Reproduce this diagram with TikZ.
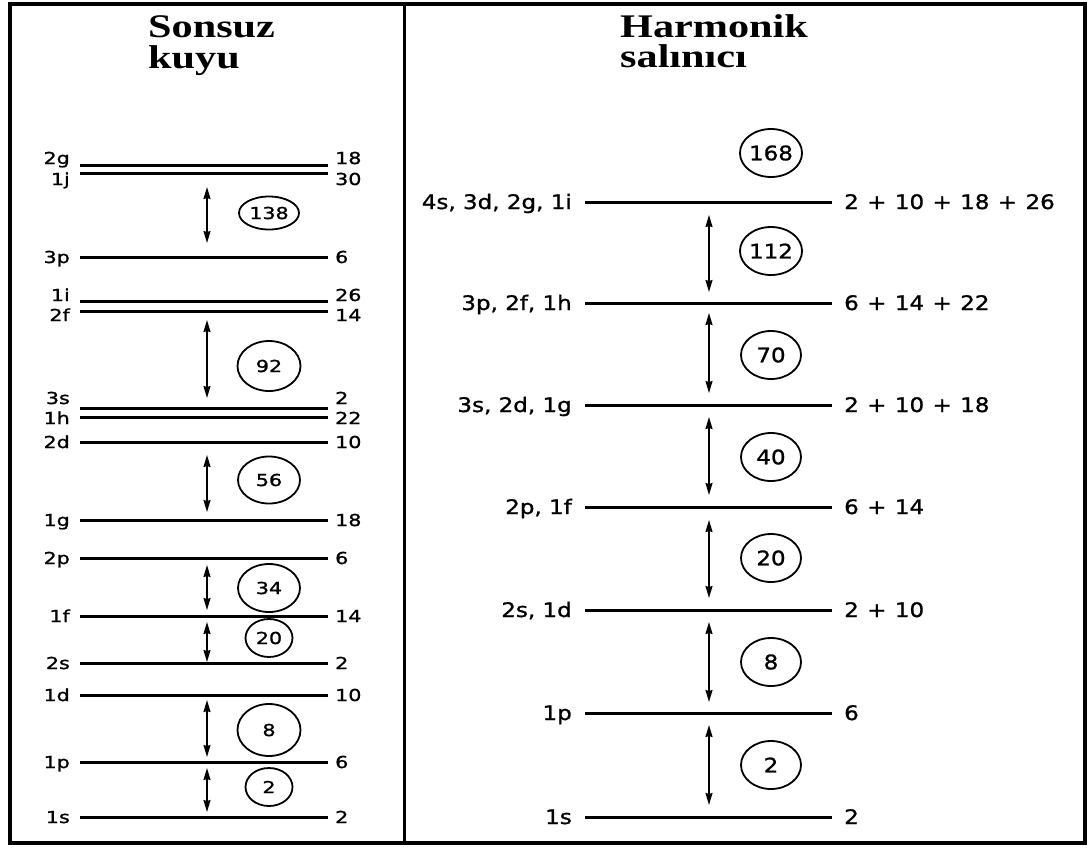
\documentclass[tikz,border=0pt]{standalone}
\usepackage{fontspec}
\usetikzlibrary{arrows.meta,shapes.geometric}
\newfontfamily\titlefont[FakeStretch=1.28]{Liberation Serif}
\newfontfamily\wellfont[FakeStretch=1.25,FakeBold=1.2]{DejaVu Sans}
\newfontfamily\oscfont[FakeStretch=1.15,FakeBold=1.2]{DejaVu Sans}
\newcommand{\pl}{\hspace{0.42em}+\hspace{0.42em}}

\begin{document}
\begin{tikzpicture}[x=1pt,y=-1pt,
  title/.style={anchor=base west,inner sep=0,font=\titlefont\bfseries\fontsize{33}{31}\selectfont},
  level/.style={line width=3pt},
  wlbl/.style={inner sep=0,font=\wellfont\fontsize{16.5}{18}\selectfont},
  olbl/.style={inner sep=0,font=\oscfont\fontsize{20}{22}\selectfont},
  arr/.style={line width=1.6pt,{Stealth[length=12pt,width=7pt,inset=1pt]}-{Stealth[length=12pt,width=7pt,inset=1pt]}},
  shell/.style={draw,ellipse,line width=1.8pt,inner sep=0}]
  \useasboundingbox (0,0) rectangle (1088,847);
  % The frame and the divider.
  \draw[line width=3.5pt] (10,4) rectangle (1085,843);
  \draw[line width=3pt] (404,4) -- (404,843);
  % The titles.
  \node[title] (wtitle) at (148,37) {Sonsuz};
  \node[title] (wtitle2) at (148,68) {kuyu};
  \node[title] (otitle) at (620,37) {Harmonik};
  \node[title] (otitle2) at (620,67) {salınıcı};
  % The levels of the infinite well.
  \foreach \y/\ly/\a/\b [count=\i] in {165/158/2g/18, 173/179/1j/30, 257/257/3p/6,
      301/295/1i/26, 311/315/2f/14, 408/398/3s/2, 417/418/1h/22, 442/442/2d/10,
      520/520/1g/18, 558/558/2p/6, 616/616/1f/14, 663/663/2s/2, 695/695/1d/10,
      762/762/1p/6, 817/817/1s/2} {
    \coordinate (wa\i) at (80,\y);
    \coordinate (wb\i) at (328,\y);
    \draw[level] (wa\i) -- (wb\i);
    \node[wlbl,anchor=base east] (wl\i) at (70,\ly+6) {\a};
    \node[wlbl,anchor=base west] (wr\i) at (335,\ly+6) {\b};
  }
  % The gaps and the magic numbers of the well.
  \foreach \t/\d/\n/\c/\w/\h [count=\i] in {187/243/138/213/60/33, 320/398/92/366/63/50,
      455/512/56/480/62/47, 565/610/34/588/62/48, 622/662/20/638/47/38,
      700/757/8/730/63/52, 768/812/2/787/47/38} {
    \coordinate (wu\i) at (207,\t);
    \coordinate (wd\i) at (207,\d);
    \draw[arr] (wu\i) -- (wd\i);
    \node[shell,wlbl,minimum width=\w,minimum height=\h] (we\i) at (269,\c) {\n};
  }
  % The levels of the harmonic oscillator.
  \foreach \y/\a/\b [count=\i] in {202/{4s, 3d, 2g, 1i}/{2\pl10\pl18\pl26},
      303/{3p, 2f, 1h}/{6\pl14\pl22}, 405/{3s, 2d, 1g}/{2\pl10\pl18},
      507/{2p, 1f}/{6\pl14}, 610/{2s, 1d}/{2\pl10}, 713/1p/6, 817/1s/2} {
    \coordinate (oa\i) at (585,\y);
    \coordinate (ob\i) at (832,\y);
    \draw[level] (oa\i) -- (ob\i);
    \node[olbl,anchor=base east] (ol\i) at (572,\y+7) {\a};
    \node[olbl,anchor=base west] (or\i) at (844,\y+7) {\b};
  }
  % The gaps and the magic numbers of the oscillator.
  \node[shell,olbl,minimum width=60,minimum height=48] (otop) at (771,153) {168};
  \foreach \t/\d/\n/\c [count=\i] in {215/292/112/251, 313/393/70/355, 417/495/40/457,
      520/598/20/558, 622/702/8/662, 725/805/2/765} {
    \coordinate (ou\i) at (709,\t);
    \coordinate (od\i) at (709,\d);
    \draw[arr] (ou\i) -- (od\i);
    \node[shell,olbl,minimum width=60,minimum height=48] (oe\i) at (771,\c) {\n};
  }
\end{tikzpicture}
\end{document}
